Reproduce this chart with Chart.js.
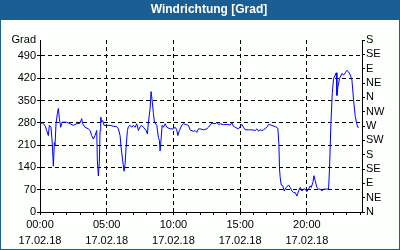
<!DOCTYPE html>
<html>
<head>
<meta charset="utf-8">
<script src="https://cdn.jsdelivr.net/npm/chart.js@4"></script>
<style>
  body { margin: 0; }
  #wrap { width: 400px; height: 250px; }
</style>
</head>
<body>
<div id="wrap"><canvas id="windChart" width="400" height="250"></canvas></div>
<script>
// time of day in hours (17.02.18) and wind direction in degrees
const hours = [
    0.0, 0.2, 0.375, 0.5, 0.625, 0.7, 0.825, 0.925, 1.0, 1.075, 1.125, 1.2, 1.3, 1.375, 1.45, 1.55, 1.65, 1.75,
    2.0, 2.25, 2.5, 2.75, 3.0, 3.125, 3.2, 3.375, 3.625, 3.75, 3.875, 4.0, 4.125, 4.25, 4.3, 4.375, 4.45, 4.5,
    4.55, 4.625, 4.7, 4.8, 5.0, 5.25, 5.5, 5.75, 5.875, 6.0, 6.075, 6.2, 6.3, 6.375, 6.45, 6.55, 6.625, 6.75,
    6.875, 7.0, 7.125, 7.25, 7.375, 7.5, 7.625, 7.75, 7.95, 8.05, 8.125, 8.25, 8.325, 8.4, 8.5, 8.575, 8.75,
    8.875, 8.95, 9.0, 9.075, 9.15, 9.25, 9.375, 9.5, 9.75, 10.0, 10.125, 10.25, 10.325, 10.45, 10.625, 10.75,
    11.0, 11.125, 11.25, 11.5, 11.625, 11.75, 11.875, 12.0, 12.25, 12.5, 12.625, 12.875, 13.125, 13.25, 13.375,
    13.5, 13.75, 14.0, 14.25, 14.375, 14.5, 14.625, 14.875, 15.0, 15.125, 15.25, 15.375, 15.625, 15.875, 16.125,
    16.25, 16.375, 16.5, 16.625, 16.75, 17.0, 17.125, 17.25, 17.375, 17.625, 17.75, 17.825, 17.9, 17.95, 18.0,
    18.075, 18.2, 18.3, 18.45, 18.625, 18.75, 18.875, 19.0, 19.125, 19.25, 19.375, 19.5, 19.625, 19.75, 19.875,
    20.0, 20.125, 20.25, 20.325, 20.45, 20.525, 20.625, 20.75, 20.875, 21.0, 21.125, 21.25, 21.5, 21.625, 21.7,
    21.8, 21.9, 22.0, 22.125, 22.2, 22.25, 22.325, 22.45, 22.625, 22.75, 22.875, 23.0, 23.125, 23.25, 23.375,
    23.5, 23.625, 23.75, 23.85
];
const direction = [
    279, 279, 272, 256, 240, 272, 266, 213, 144, 218, 208, 277, 309, 325, 293, 266, 282, 282,
    282, 277, 272, 277, 279, 293, 277, 266, 261, 256, 240, 229, 240, 256, 160, 113, 160, 256,
    298, 282, 287, 272, 272, 272, 269, 268, 261, 240, 203, 160, 128, 150, 203, 256, 268, 272,
    266, 272, 266, 277, 256, 268, 272, 266, 256, 245, 282, 325, 378, 351, 309, 282, 272,
    234, 224, 192, 229, 272, 266, 277, 266, 261, 261, 266, 258, 240, 256, 272, 277,
    274, 272, 258, 253, 256, 250, 261, 261, 258, 261, 266, 279, 277, 281, 275,
    277, 274, 275, 273, 280, 269, 266, 261, 268, 275, 266, 258, 258, 258, 256,
    261, 254, 258, 256, 258, 266, 275, 274, 272, 268, 266, 261, 214, 135, 108,
    85, 82, 66, 77, 85, 77, 66, 61, 61, 50, 66, 77, 66, 72, 72,
    64, 72, 82, 77, 93, 114, 98, 77, 72, 72, 66, 72, 72, 72, 140,
    277, 372, 419, 430, 437, 366, 393, 419, 435, 430, 437, 445, 440, 430, 414,
    351, 300, 275, 264
];

const hourTicks = Array.from({ length: 25 }, (_, i) => i);
const degreeTicks = [0, 70, 140, 210, 280, 350, 420, 490];
const compassTicks = [0, 45, 90, 135, 180, 225, 270, 315, 360, 405, 450, 495, 540];
const compassLabels = ['N', 'NE', 'E', 'SE', 'S', 'SW', 'W', 'NW', 'N', 'NE', 'E', 'SE', 'S'];
const dateLabel = '17.02.18';
const yMax = 540;

const font = { family: 'Liberation Sans', size: 11, lineHeight: 1.45 };

// blue frame with title bar
const frame = {
    id: 'frame',
    beforeDraw(chart) {
        const c = chart.ctx;
        c.save();
        c.fillStyle = '#1b5e94';
        c.fillRect(0, 0, chart.width, chart.height);
        c.fillStyle = '#fcfffc';
        c.fillRect(1, 20, chart.width - 2, chart.height - 21);
        c.fillStyle = '#ffffff';
        c.font = 'bold 12px "Liberation Sans"';
        c.textAlign = 'center';
        c.textBaseline = 'middle';
        c.fillText('Windrichtung [Grad]', 209, 10);
        c.restore();
    }
};

const pad = (n) => String(n).padStart(2, '0');

new Chart(document.getElementById('windChart'), {
    type: 'line',
    data: {
        datasets: [{
            data: hours.map((h, i) => ({ x: h, y: direction[i] })),
            borderColor: '#0000ff',
            borderWidth: 1,
            pointRadius: 0,
            tension: 0,
            fill: false
        }]
    },
    options: {
        responsive: false,
        animation: false,
        layout: { padding: { top: 40 } },
        plugins: { legend: { display: false }, tooltip: { enabled: false } },
        scales: {
            x: {
                type: 'linear',
                min: 0,
                max: 24.13,
                afterBuildTicks: (s) => { s.ticks = hourTicks.map(v => ({ value: v })); },
                afterFit: (s) => { s.height = 38; },
                border: { color: '#000', width: 1, dash: [4, 3] },
                grid: {
                    color: (ctx) => (ctx.tick && ctx.tick.value > 0 && ctx.tick.value % 5 === 0) ? '#000' : 'rgba(0,0,0,0)',
                    tickColor: '#000',
                    tickLength: 3
                },
                ticks: {
                    autoSkip: false,
                    maxRotation: 0,
                    padding: 2,
                    color: '#000',
                    font: font,
                    callback: (v) => v % 5 === 0 ? [pad(v) + ':00', dateLabel] : ''
                }
            },
            y: {
                min: 0,
                max: yMax,
                afterBuildTicks: (s) => { s.ticks = degreeTicks.concat([yMax]).map(v => ({ value: v })); },
                afterFit: (s) => { s.width = 40; },
                border: { color: '#000', width: 1, dash: [4, 3] },
                grid: {
                    color: (ctx) => (ctx.tick && ctx.tick.value > 0 && ctx.tick.value < yMax) ? '#000' : 'rgba(0,0,0,0)',
                    tickColor: (ctx) => (ctx.tick && ctx.tick.value === yMax) ? 'rgba(0,0,0,0)' : '#000',
                    tickLength: 3
                },
                ticks: {
                    autoSkip: false,
                    padding: 1,
                    color: '#000',
                    font: font,
                    callback: (v) => v === yMax ? 'Grad' : v
                }
            },
            y2: {
                position: 'right',
                min: 0,
                max: yMax,
                afterBuildTicks: (s) => { s.ticks = compassTicks.map(v => ({ value: v })); },
                afterFit: (s) => { s.width = 38; },
                border: { color: '#000', width: 1 },
                grid: { drawOnChartArea: false, tickColor: '#000', tickLength: 3 },
                ticks: {
                    autoSkip: false,
                    padding: 1,
                    color: '#000',
                    font: font,
                    callback: (v) => compassLabels[compassTicks.indexOf(v)]
                }
            }
        }
    },
    plugins: [frame]
});
</script>
</body>
</html>
